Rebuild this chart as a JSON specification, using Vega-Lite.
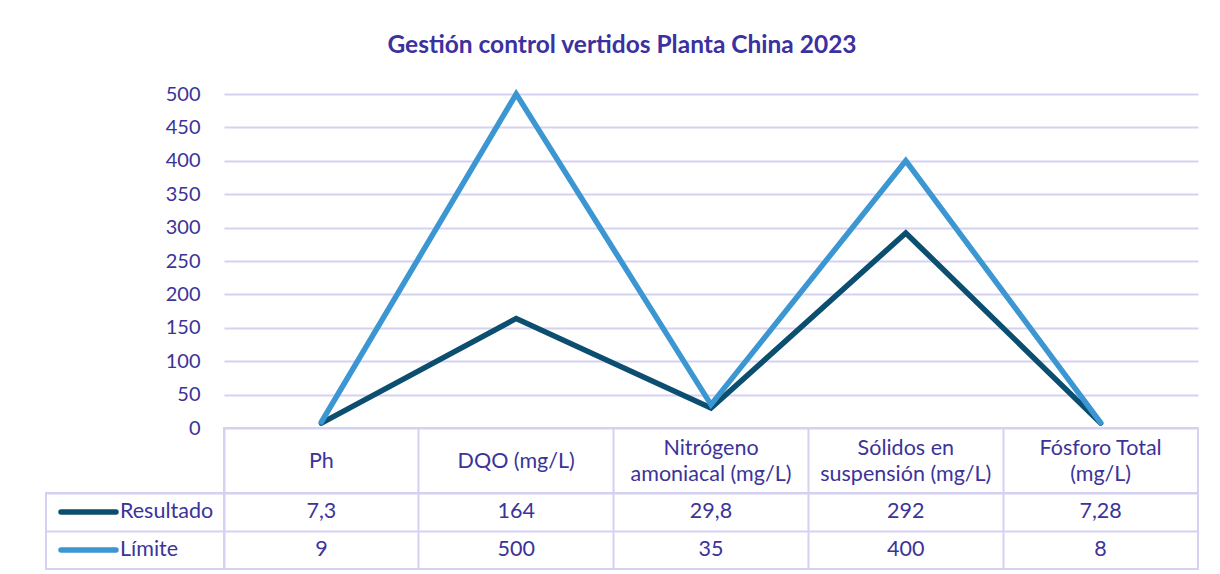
{
  "$schema": "https://vega.github.io/schema/vega-lite/v6.json",
  "padding": {"left": 45, "top": 32, "right": 23, "bottom": 1},
  "title": {"text": "Gestión control vertidos Planta China 2023", "anchor": "middle", "fontSize": 24.5, "font": "Lato", "fontWeight": "bold", "color": "#3b31a0", "offset": 25},
  "datasets": {
    "datos": [
      {"parametro": "Ph", "serie": "Resultado", "valor": 7.3},
      {"parametro": "DQO (mg/L)", "serie": "Resultado", "valor": 164},
      {"parametro": "Nitrógeno amoniacal (mg/L)", "serie": "Resultado", "valor": 29.8},
      {"parametro": "Sólidos en suspensión (mg/L)", "serie": "Resultado", "valor": 292},
      {"parametro": "Fósforo Total (mg/L)", "serie": "Resultado", "valor": 7.28},
      {"parametro": "Ph", "serie": "Límite", "valor": 9},
      {"parametro": "DQO (mg/L)", "serie": "Límite", "valor": 500},
      {"parametro": "Nitrógeno amoniacal (mg/L)", "serie": "Límite", "valor": 35},
      {"parametro": "Sólidos en suspensión (mg/L)", "serie": "Límite", "valor": 400},
      {"parametro": "Fósforo Total (mg/L)", "serie": "Límite", "valor": 8}
    ],
    "parametros": [
      {"parametro": "Ph", "etiqueta": "Ph", "lineas": 1},
      {"parametro": "DQO (mg/L)", "etiqueta": "DQO (mg/L)", "lineas": 1},
      {"parametro": "Nitrógeno amoniacal (mg/L)", "etiqueta": "Nitrógeno\namoniacal (mg/L)", "lineas": 2},
      {"parametro": "Sólidos en suspensión (mg/L)", "etiqueta": "Sólidos en\nsuspensión (mg/L)", "lineas": 2},
      {"parametro": "Fósforo Total (mg/L)", "etiqueta": "Fósforo Total\n(mg/L)", "lineas": 2}
    ]
  },
  "columns": 2,
  "spacing": 0,
  "bounds": "flush",
  "resolve": {"scale": {"x": "independent", "y": "independent", "color": "independent"}},
  "config": {
    "font": "Lato",
    "view": {"stroke": null},
    "locale": {"number": {"decimal": ",", "thousands": ".", "grouping": [3], "currency": ["", " €"]}}
  },
  "concat": [
    {
      "width": 178, "height": 334,
      "data": {"values": [{}]},
      "mark": {"type": "text"},
      "encoding": {"text": {"value": ""}}
    },
    {
      "width": 974, "height": 334,
      "data": {"name": "datos"},
      "mark": {"type": "line", "strokeWidth": 5.5, "strokeCap": "round", "strokeJoin": "miter"},
      "encoding": {
        "x": {"field": "parametro", "type": "nominal", "sort": null,
              "scale": {"type": "point", "domain": ["Ph", "DQO (mg/L)", "Nitrógeno amoniacal (mg/L)", "Sólidos en suspensión (mg/L)", "Fósforo Total (mg/L)"], "padding": 0.5},
              "axis": null},
        "y": {"field": "valor", "type": "quantitative",
              "scale": {"domain": [0, 500], "nice": false},
              "axis": {"title": null, "grid": true, "gridColor": "#d5d1f1", "gridWidth": 2, "domain": false, "ticks": false,
                       "labelPadding": 24, "labelFontSize": 20, "labelColor": "#3b3399", "labelFont": "Lato",
                       "values": [0, 50, 100, 150, 200, 250, 300, 350, 400, 450, 500]}},
        "color": {"field": "serie", "type": "nominal", "sort": null,
                  "scale": {"domain": ["Resultado", "Límite"], "range": ["#0b4e70", "#3b96d1"]}, "legend": null}
      }
    },
    {
      "width": 178, "height": 65,
      "data": {"values": [{}]},
      "mark": {"type": "text"},
      "encoding": {"text": {"value": ""}}
    },
    {
      "width": 974, "height": 65,
      "view": {"stroke": "#d5d1f1", "strokeWidth": 2},
      "data": {"name": "parametros"},
      "encoding": {
        "x": {"field": "parametro", "type": "nominal", "sort": null,
              "scale": {"type": "band", "domain": ["Ph", "DQO (mg/L)", "Nitrógeno amoniacal (mg/L)", "Sólidos en suspensión (mg/L)", "Fósforo Total (mg/L)"], "paddingInner": 0, "paddingOuter": 0},
              "axis": {"title": null, "labels": false, "ticks": false, "domain": false, "grid": true, "bandPosition": 0, "gridColor": "#d5d1f1", "gridWidth": 2}},
        "text": {"field": "etiqueta"}
      },
      "layer": [
        {
          "transform": [{"filter": "datum.lineas == 1"}],
          "mark": {"type": "text", "fontSize": 21.5, "color": "#3b3399", "font": "Lato", "dy": 1}
        },
        {
          "transform": [{"filter": "datum.lineas == 2"}],
          "mark": {"type": "text", "lineBreak": "\n", "lineHeight": 26, "fontSize": 21.5, "color": "#3b3399", "font": "Lato", "dy": -12}
        }
      ]
    },
    {
      "width": 178, "height": 76,
      "view": {"stroke": "#d5d1f1", "strokeWidth": 2},
      "data": {"name": "datos"},
      "transform": [{"filter": "datum.parametro === 'Ph'"}],
      "encoding": {
        "y": {"field": "serie", "type": "nominal", "sort": null,
              "scale": {"type": "band", "domain": ["Resultado", "Límite"], "paddingInner": 0, "paddingOuter": 0},
              "axis": {"title": null, "labels": false, "ticks": false, "domain": false, "grid": true, "bandPosition": 0, "gridColor": "#d5d1f1", "gridWidth": 2}}
      },
      "layer": [
        {
          "mark": {"type": "point", "shape": "M-2,0L-0.514,0", "size": 5476, "strokeWidth": 5.5, "strokeCap": "round", "opacity": 1},
          "encoding": {
            "color": {"field": "serie", "type": "nominal", "sort": null,
                      "scale": {"domain": ["Resultado", "Límite"], "range": ["#0b4e70", "#3b96d1"]}, "legend": null}
          }
        },
        {
          "mark": {"type": "text", "align": "left", "dx": -15, "fontSize": 21.5, "color": "#3b3399", "font": "Lato"},
          "encoding": {"text": {"field": "serie"}}
        }
      ]
    },
    {
      "width": 974, "height": 76,
      "view": {"stroke": "#d5d1f1", "strokeWidth": 2},
      "data": {"name": "datos"},
      "mark": {"type": "text", "fontSize": 21.5, "color": "#3b3399", "font": "Lato"},
      "encoding": {
        "x": {"field": "parametro", "type": "nominal", "sort": null,
              "scale": {"type": "band", "domain": ["Ph", "DQO (mg/L)", "Nitrógeno amoniacal (mg/L)", "Sólidos en suspensión (mg/L)", "Fósforo Total (mg/L)"], "paddingInner": 0, "paddingOuter": 0},
              "axis": {"title": null, "labels": false, "ticks": false, "domain": false, "grid": true, "bandPosition": 0, "gridColor": "#d5d1f1", "gridWidth": 2}},
        "y": {"field": "serie", "type": "nominal", "sort": null,
              "scale": {"type": "band", "domain": ["Resultado", "Límite"], "paddingInner": 0, "paddingOuter": 0},
              "axis": {"title": null, "labels": false, "ticks": false, "domain": false, "grid": true, "bandPosition": 0, "gridColor": "#d5d1f1", "gridWidth": 2}},
        "text": {"field": "valor", "type": "quantitative", "format": "~g"}
      }
    }
  ]
}
